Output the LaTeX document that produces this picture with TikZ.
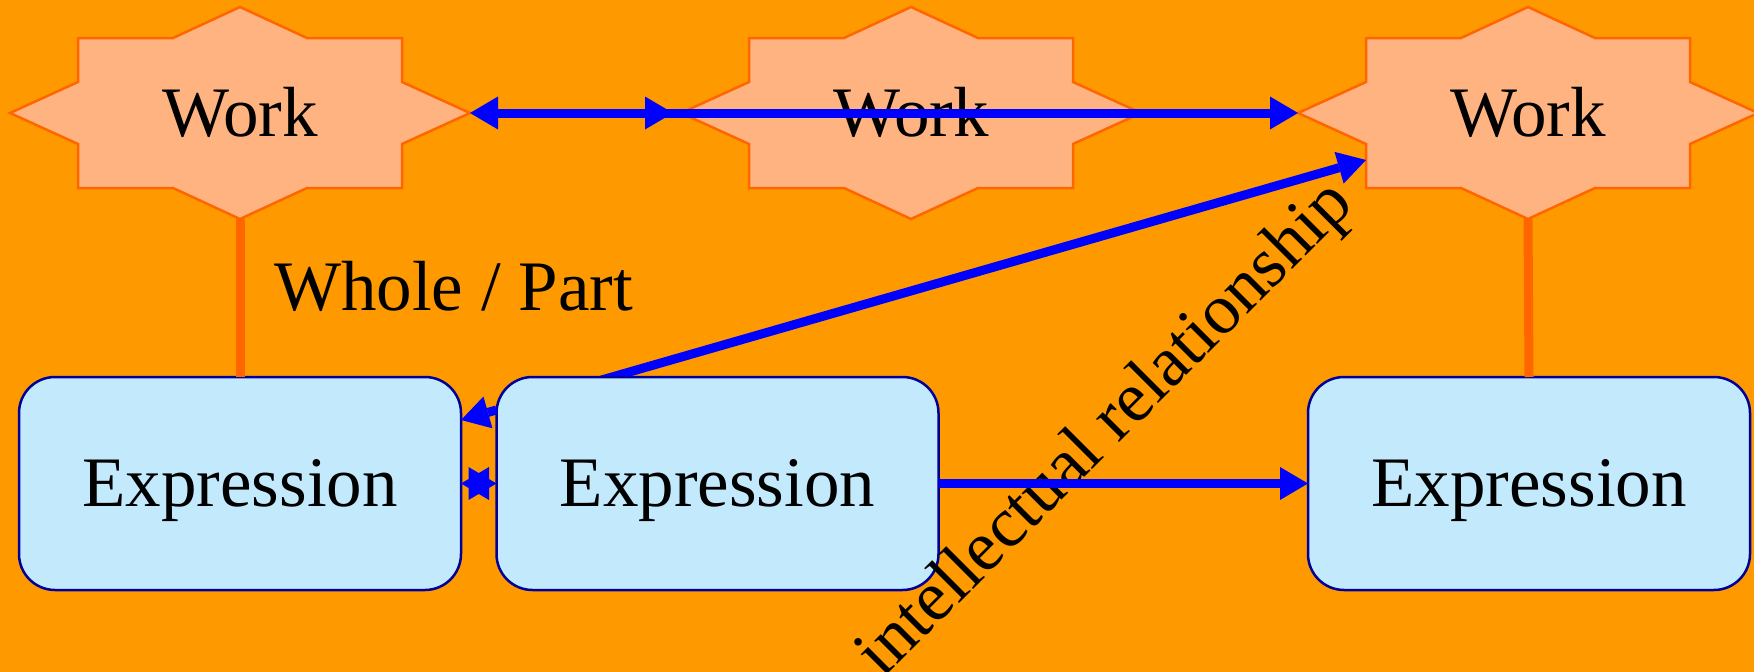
\documentclass[tikz,border=0pt]{standalone}
\usepackage{fontspec}
\setmainfont{Liberation Serif}
\usetikzlibrary{arrows.meta,calc}
\definecolor{pagebg}{HTML}{FF9900}
\definecolor{workfill}{HTML}{FFB380}
\definecolor{workline}{HTML}{FF6600}
\definecolor{exprfill}{HTML}{C2EAFC}
\definecolor{exprline}{HTML}{000099}
\definecolor{relblue}{HTML}{0000FF}
\pgfdeclarelayer{back}
\pgfsetlayers{back,main}
\tikzset{
  bigtext/.style={font=\fontsize{71}{80}\selectfont},
  worknode/.style={bigtext, shape=rectangle, minimum width=460pt, minimum height=212pt,
    inner sep=0pt, outer sep=0pt, text height=46.5pt, text depth=0pt},
  exprnode/.style={bigtext, shape=rectangle, rounded corners=36pt, draw=exprline,
    line width=2.5pt, fill=exprfill, minimum width=442pt, minimum height=213pt,
    inner sep=0pt, outer sep=0pt, text height=46.5pt, text depth=0pt},
  starshape/.style={fill=workfill, draw=workline, line width=2.5pt, line join=miter},
  partline/.style={draw=workline, line width=9pt},
  reltip/.tip={Triangle[length=28pt,width=33pt,line width=0pt]},
  relarrow/.style={draw=relblue, line width=9pt, -reltip},
  relboth/.style={draw=relblue, line width=9pt, reltip-reltip},
}
\begin{document}
\begin{tikzpicture}[x=1pt,y=-1pt]
  \useasboundingbox (0,0) rectangle (1754,672);

  % works and expressions
  \node[worknode] (w1) at (240,113) {Work};
  \node[worknode] (w2) at (911,113) {Work};
  \node[worknode] (w3) at (1528,113) {Work};
  \node[exprnode] (e1) at (240,483.5) {Expression};
  \node[exprnode] (e2) at (717.5,483.5) {Expression};
  \node[exprnode] (e3) at (1529,483.5) {Expression};

  % end points that lie on or inside the shape outlines
  \coordinate (w2in) at ($(w2.west)+(-30,0)$);
  \coordinate (e2in) at ($(e2.north)+(-168,18)$);
  \coordinate (w3side) at ($(w3.center)+(-162,47)$);
  \coordinate (e2edge) at ($(e2.north west)+(0,33)$);
  \coordinate (e1edge) at ($(e1.north east)+(0,43)$);

  % page, star outlines and the link that starts behind an expression box
  \begin{pgfonlayer}{back}
    \fill[pagebg] (0,0) rectangle (1754,672);
    \foreach \w in {w1,w2,w3}
      \draw[starshape, shift={(\w.center)}]
        (-162,-75) -- (-67,-75) -- (0,-106) -- (67,-75) -- (162,-75) -- (162,-31)
        -- (230,0) -- (162,31) -- (162,75) -- (67,75) -- (0,106) -- (-67,75)
        -- (-162,75) -- (-162,31) -- (-230,0) -- (-162,-31) -- cycle;
    \draw[relarrow] (e2in) -- (w3side);
  \end{pgfonlayer}

  % labels
  \node[bigtext, anchor=base west, inner sep=0pt] (wp) at (274,310) {Whole / Part};
  \node[bigtext, rotate=45, inner sep=0pt] (ir) at (1107,431) {intellectual relationship};

  % whole/part links
  \draw[partline] (w1.south) -- (e1.north);
  \draw[partline] (w3.south) -- (e3.north);

  % relationships
  \draw[relarrow] (w2in) -- (w3.west);
  \draw[relboth, shorten >=8pt] (w1.east) -- (w2.west);
  \draw[relarrow] (e2edge) -- (e1edge);
  \draw[relboth] (e1.east) -- (e2.west);
  \draw[relarrow] (e2.east) -- (e3.west);
\end{tikzpicture}
\end{document}
